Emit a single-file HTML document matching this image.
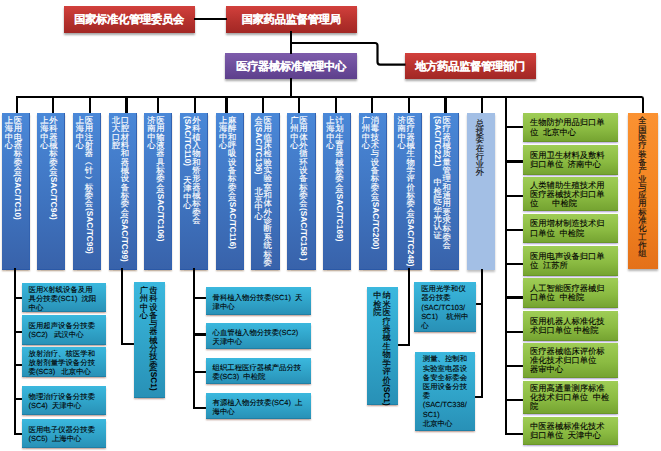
<!DOCTYPE html><html><head><meta charset="utf-8"><style>
*{margin:0;padding:0;box-sizing:border-box}
html,body{width:661px;height:451px;overflow:hidden;background:#fff}
body{position:relative;font-family:"Liberation Sans",sans-serif;text-rendering:geometricPrecision}
.ln{position:absolute;background:#000}
.bx{position:absolute}
.tb{color:#fff;font-weight:bold;font-size:11.2px;letter-spacing:-0.2px;text-indent:-0.2px;display:flex;align-items:center;justify-content:center;white-space:nowrap;padding-top:3.5px;-webkit-text-stroke:0.12px #fff}
.red{background:linear-gradient(#d2403c,#b3302c 60%,#a22724);box-shadow:0 2px 2px rgba(0,0,0,.35)}
.purple{background:linear-gradient(#7d5cab,#6a4b99 60%,#5d3f8c);box-shadow:0 2px 2px rgba(0,0,0,.35)}
.blue{background:linear-gradient(#4a88d8,#3f74c0 55%,#3862aa);box-shadow:inset 0 -1px 0 #2a58a6,inset -1px 0 0 #3262b0,0 1.5px 1.5px rgba(130,95,60,.45);color:#fff}
.lblue{background:#a3bfe5;box-shadow:0 2px 2px rgba(0,0,0,.25);color:#111}
.orange{background:linear-gradient(#fb9232,#f3831f 60%,#e4711a);box-shadow:0 2px 2px rgba(0,0,0,.3);color:#111}
.teal{background:linear-gradient(#3bb8de,#30a3c8 55%,#2890b6);box-shadow:inset 0 -1px 0 #207fa5,0 1.5px 1.5px rgba(140,80,60,.45);color:#000}
.green{background:linear-gradient(#9fcd56,#8bbb42 55%,#74a230);box-shadow:inset 0 -1px 0 #6a9628,0 1.5px 1.5px rgba(120,100,180,.45);color:#000}
.vc{position:absolute;width:12px;display:flex;flex-direction:column;align-items:center;white-space:nowrap}
.vc i{font-style:normal;display:block}
.vc .c{width:12px;text-align:center;-webkit-text-stroke:0.15px currentColor}
.vc .l{writing-mode:vertical-rl;line-height:12px;font-weight:bold;position:relative;left:0.6px}
.ht{-webkit-text-stroke:0.1px #000;font-size:7.4px;line-height:9.1px;white-space:nowrap;display:flex;align-items:center;padding-left:6.5px;padding-top:1.5px;font-weight:500}
.ht2{-webkit-text-stroke:0.1px #000;font-size:7.4px;line-height:9.2px;white-space:nowrap;display:flex;align-items:center;padding-left:7.5px;font-weight:500}
.green.ht{font-size:8.3px;padding-left:7.2px;line-height:9.2px;padding-top:0.3px}
</style></head><body>
<div class="bx red tb" style="left:63.60px;top:5.70px;width:131.20px;height:27.00px;">国家标准化管理委员会</div>
<div class="bx red tb" style="left:225.80px;top:5.80px;width:131.20px;height:26.90px;">国家药品监督管理局</div>
<div class="bx purple tb" style="left:225.40px;top:52.70px;width:131.60px;height:26.40px;">医疗器械标准管理中心</div>
<div class="bx red tb" style="left:405.00px;top:52.80px;width:130.50px;height:25.80px;">地方药品监督管理部门</div>
<div class="ln" style="left:193.70px;top:17.70px;width:33.20px;height:2.20px"></div>
<div class="ln" style="left:290.30px;top:30.90px;width:2.20px;height:23.20px"></div>
<svg style="position:absolute;left:0;top:0" width="661" height="451"><path d="M290.3,43 H375 Q377.5,43 377.5,45.5 V62.1 Q377.5,64.6 380,64.6 H405.5" fill="none" stroke="#000" stroke-width="2.2"/></svg>
<div class="ln" style="left:290.30px;top:77.90px;width:2.20px;height:20.50px"></div>
<div class="ln" style="left:15.90px;top:96.20px;width:625.70px;height:2.20px"></div>
<div style="position:absolute;left:638.2px;top:96.2px;width:6.2px;height:17px;border-top:2.2px solid #000;border-right:2.2px solid #000;border-top-right-radius:3px"></div>
<div class="ln" style="left:15.90px;top:96.20px;width:2.20px;height:18.40px"></div>
<div class="bx blue" style="left:1.50px;top:113.00px;width:28.30px;height:156.60px;"><div class="vc" style="left:10.30px;top:3.00px;font-size:8.35px"><i class="c" style="height:8.35px;line-height:8.35px">医</i><i class="c" style="height:8.35px;line-height:8.35px">用</i><i class="c" style="height:8.35px;line-height:8.35px">电</i><i class="c" style="height:8.35px;line-height:8.35px">器</i><i class="c" style="height:8.35px;line-height:8.35px">标</i><i class="c" style="height:8.35px;line-height:8.35px">委</i><i class="c" style="height:8.35px;line-height:8.35px">会</i><i class="l">(SAC/TC10)</i></div><div class="vc" style="left:1.30px;top:3.00px;font-size:8.35px"><i class="c" style="height:8.35px;line-height:8.35px">上</i><i class="c" style="height:8.35px;line-height:8.35px">海</i><i class="c" style="height:8.35px;line-height:8.35px">中</i><i class="c" style="height:8.35px;line-height:8.35px">心</i></div></div>
<div class="ln" style="left:52.10px;top:96.20px;width:2.20px;height:18.40px"></div>
<div class="bx blue" style="left:37.00px;top:113.00px;width:28.30px;height:156.60px;"><div class="vc" style="left:10.30px;top:3.00px;font-size:8.35px"><i class="c" style="height:8.35px;line-height:8.35px">外</i><i class="c" style="height:8.35px;line-height:8.35px">科</i><i class="c" style="height:8.35px;line-height:8.35px">器</i><i class="c" style="height:8.35px;line-height:8.35px">械</i><i class="c" style="height:8.35px;line-height:8.35px">标</i><i class="c" style="height:8.35px;line-height:8.35px">委</i><i class="c" style="height:8.35px;line-height:8.35px">会</i><i class="l">(SAC/TC94)</i></div><div class="vc" style="left:1.30px;top:3.00px;font-size:8.35px"><i class="c" style="height:8.35px;line-height:8.35px">上</i><i class="c" style="height:8.35px;line-height:8.35px">海</i><i class="c" style="height:8.35px;line-height:8.35px">中</i><i class="c" style="height:8.35px;line-height:8.35px">心</i></div></div>
<div class="ln" style="left:89.10px;top:96.20px;width:2.20px;height:18.40px"></div>
<div class="bx blue" style="left:72.70px;top:113.00px;width:28.10px;height:156.60px;"><div class="vc" style="left:10.30px;top:3.00px;font-size:8.35px"><i class="c" style="height:8.35px;line-height:8.35px">医</i><i class="c" style="height:8.35px;line-height:8.35px">用</i><i class="c" style="height:8.35px;line-height:8.35px">注</i><i class="c" style="height:8.35px;line-height:8.35px">射</i><i class="c" style="height:8.35px;line-height:8.35px">器</i><i class="c" style="height:8.35px;line-height:8.35px">︵</i><i class="c" style="height:8.35px;line-height:8.35px">针</i><i class="c" style="height:8.35px;line-height:8.35px">︶</i><i class="c" style="height:8.35px;line-height:8.35px">标</i><i class="c" style="height:8.35px;line-height:8.35px">委</i><i class="c" style="height:8.35px;line-height:8.35px">会</i><i class="l">(SAC/TC95)</i></div><div class="vc" style="left:1.30px;top:3.00px;font-size:8.35px"><i class="c" style="height:8.35px;line-height:8.35px">上</i><i class="c" style="height:8.35px;line-height:8.35px">海</i><i class="c" style="height:8.35px;line-height:8.35px">中</i><i class="c" style="height:8.35px;line-height:8.35px">心</i></div></div>
<div class="ln" style="left:125.40px;top:96.20px;width:2.20px;height:18.40px"></div>
<div class="bx blue" style="left:108.60px;top:113.00px;width:28.20px;height:156.60px;"><div class="vc" style="left:10.30px;top:3.00px;font-size:8.35px"><i class="c" style="height:8.35px;line-height:8.35px">口</i><i class="c" style="height:8.35px;line-height:8.35px">腔</i><i class="c" style="height:8.35px;line-height:8.35px">材</i><i class="c" style="height:8.35px;line-height:8.35px">料</i><i class="c" style="height:8.35px;line-height:8.35px">和</i><i class="c" style="height:8.35px;line-height:8.35px">器</i><i class="c" style="height:8.35px;line-height:8.35px">械</i><i class="c" style="height:8.35px;line-height:8.35px">设</i><i class="c" style="height:8.35px;line-height:8.35px">备</i><i class="c" style="height:8.35px;line-height:8.35px">标</i><i class="c" style="height:8.35px;line-height:8.35px">委</i><i class="c" style="height:8.35px;line-height:8.35px">会</i><i class="l">(SAC/TC99)</i></div><div class="vc" style="left:1.30px;top:3.00px;font-size:8.35px"><i class="c" style="height:8.35px;line-height:8.35px">北</i><i class="c" style="height:8.35px;line-height:8.35px">大</i><i class="c" style="height:8.35px;line-height:8.35px">口</i><i class="c" style="height:8.35px;line-height:8.35px">腔</i></div></div>
<div class="ln" style="left:156.90px;top:96.20px;width:2.20px;height:18.40px"></div>
<div class="bx blue" style="left:144.20px;top:113.00px;width:28.10px;height:156.60px;"><div class="vc" style="left:10.30px;top:3.00px;font-size:8.35px"><i class="c" style="height:8.35px;line-height:8.35px">医</i><i class="c" style="height:8.35px;line-height:8.35px">用</i><i class="c" style="height:8.35px;line-height:8.35px">输</i><i class="c" style="height:8.35px;line-height:8.35px">液</i><i class="c" style="height:8.35px;line-height:8.35px">器</i><i class="c" style="height:8.35px;line-height:8.35px">具</i><i class="c" style="height:8.35px;line-height:8.35px">标</i><i class="c" style="height:8.35px;line-height:8.35px">委</i><i class="c" style="height:8.35px;line-height:8.35px">会</i><i class="l">(SAC/TC106)</i></div><div class="vc" style="left:1.30px;top:3.00px;font-size:8.35px"><i class="c" style="height:8.35px;line-height:8.35px">济</i><i class="c" style="height:8.35px;line-height:8.35px">南</i><i class="c" style="height:8.35px;line-height:8.35px">中</i><i class="c" style="height:8.35px;line-height:8.35px">心</i></div></div>
<div class="ln" style="left:193.60px;top:96.20px;width:2.20px;height:18.40px"></div>
<div class="bx blue" style="left:180.10px;top:113.00px;width:27.90px;height:156.60px;"><div class="vc" style="left:10.30px;top:3.00px;font-size:8.35px"><i class="c" style="height:8.35px;line-height:8.35px">外</i><i class="c" style="height:8.35px;line-height:8.35px">科</i><i class="c" style="height:8.35px;line-height:8.35px">植</i><i class="c" style="height:8.35px;line-height:8.35px">入</i><i class="c" style="height:8.35px;line-height:8.35px">物</i><i class="c" style="height:8.35px;line-height:8.35px">和</i><i class="c" style="height:8.35px;line-height:8.35px">矫</i><i class="c" style="height:8.35px;line-height:8.35px">形</i><i class="c" style="height:8.35px;line-height:8.35px">器</i><i class="c" style="height:8.35px;line-height:8.35px">械</i><i class="c" style="height:8.35px;line-height:8.35px">标</i><i class="c" style="height:8.35px;line-height:8.35px">委</i><i class="c" style="height:8.35px;line-height:8.35px">会</i></div><div class="vc" style="left:1.30px;top:3.00px;font-size:8.35px"><i class="l">(SAC/TC110)</i><i class="sp" style="height:4.93px"></i><i class="sp" style="height:4.93px"></i><i class="c" style="height:8.35px;line-height:8.35px">天</i><i class="c" style="height:8.35px;line-height:8.35px">津</i><i class="c" style="height:8.35px;line-height:8.35px">中</i><i class="c" style="height:8.35px;line-height:8.35px">心</i></div></div>
<div class="ln" style="left:225.40px;top:96.20px;width:2.20px;height:18.40px"></div>
<div class="bx blue" style="left:215.80px;top:113.00px;width:28.00px;height:156.60px;"><div class="vc" style="left:10.30px;top:3.00px;font-size:8.35px"><i class="c" style="height:8.35px;line-height:8.35px">麻</i><i class="c" style="height:8.35px;line-height:8.35px">醉</i><i class="c" style="height:8.35px;line-height:8.35px">和</i><i class="c" style="height:8.35px;line-height:8.35px">呼</i><i class="c" style="height:8.35px;line-height:8.35px">吸</i><i class="c" style="height:8.35px;line-height:8.35px">设</i><i class="c" style="height:8.35px;line-height:8.35px">备</i><i class="c" style="height:8.35px;line-height:8.35px">标</i><i class="c" style="height:8.35px;line-height:8.35px">委</i><i class="c" style="height:8.35px;line-height:8.35px">会</i><i class="l">(SAC/TC116)</i></div><div class="vc" style="left:1.30px;top:3.00px;font-size:8.35px"><i class="c" style="height:8.35px;line-height:8.35px">上</i><i class="c" style="height:8.35px;line-height:8.35px">海</i><i class="c" style="height:8.35px;line-height:8.35px">中</i><i class="c" style="height:8.35px;line-height:8.35px">心</i></div></div>
<div class="ln" style="left:261.50px;top:96.20px;width:2.20px;height:18.40px"></div>
<div class="bx blue" style="left:251.30px;top:113.00px;width:28.40px;height:156.60px;"><div class="vc" style="left:10.30px;top:3.00px;font-size:8.35px"><i class="c" style="height:8.35px;line-height:8.35px">医</i><i class="c" style="height:8.35px;line-height:8.35px">用</i><i class="c" style="height:8.35px;line-height:8.35px">临</i><i class="c" style="height:8.35px;line-height:8.35px">床</i><i class="c" style="height:8.35px;line-height:8.35px">检</i><i class="c" style="height:8.35px;line-height:8.35px">验</i><i class="c" style="height:8.35px;line-height:8.35px">实</i><i class="c" style="height:8.35px;line-height:8.35px">验</i><i class="c" style="height:8.35px;line-height:8.35px">室</i><i class="c" style="height:8.35px;line-height:8.35px">和</i><i class="c" style="height:8.35px;line-height:8.35px">体</i><i class="c" style="height:8.35px;line-height:8.35px">外</i><i class="c" style="height:8.35px;line-height:8.35px">诊</i><i class="c" style="height:8.35px;line-height:8.35px">断</i><i class="c" style="height:8.35px;line-height:8.35px">系</i><i class="c" style="height:8.35px;line-height:8.35px">统</i><i class="c" style="height:8.35px;line-height:8.35px">标</i><i class="c" style="height:8.35px;line-height:8.35px">委</i></div><div class="vc" style="left:1.30px;top:3.00px;font-size:8.35px"><i class="c" style="height:8.35px;line-height:8.35px">会</i><i class="l">(SAC/TC136)</i><i class="sp" style="height:4.93px"></i><i class="sp" style="height:4.93px"></i><i class="sp" style="height:2.00px"></i><i class="c" style="height:8.35px;line-height:8.35px">北</i><i class="c" style="height:8.35px;line-height:8.35px">京</i><i class="c" style="height:8.35px;line-height:8.35px">中</i><i class="c" style="height:8.35px;line-height:8.35px">心</i></div></div>
<div class="ln" style="left:297.90px;top:96.20px;width:2.20px;height:18.40px"></div>
<div class="bx blue" style="left:287.00px;top:113.00px;width:28.60px;height:156.60px;"><div class="vc" style="left:10.30px;top:3.00px;font-size:8.35px"><i class="c" style="height:8.35px;line-height:8.35px">医</i><i class="c" style="height:8.35px;line-height:8.35px">用</i><i class="c" style="height:8.35px;line-height:8.35px">体</i><i class="c" style="height:8.35px;line-height:8.35px">外</i><i class="c" style="height:8.35px;line-height:8.35px">循</i><i class="c" style="height:8.35px;line-height:8.35px">环</i><i class="c" style="height:8.35px;line-height:8.35px">设</i><i class="c" style="height:8.35px;line-height:8.35px">备</i><i class="c" style="height:8.35px;line-height:8.35px">标</i><i class="c" style="height:8.35px;line-height:8.35px">委</i><i class="c" style="height:8.35px;line-height:8.35px">会</i><i class="l">(SAC/TC158 )</i></div><div class="vc" style="left:1.30px;top:3.00px;font-size:8.35px"><i class="c" style="height:8.35px;line-height:8.35px">广</i><i class="c" style="height:8.35px;line-height:8.35px">州</i><i class="c" style="height:8.35px;line-height:8.35px">中</i><i class="c" style="height:8.35px;line-height:8.35px">心</i></div></div>
<div class="ln" style="left:334.90px;top:96.20px;width:2.20px;height:18.40px"></div>
<div class="bx blue" style="left:323.00px;top:113.00px;width:28.00px;height:156.60px;"><div class="vc" style="left:10.30px;top:3.00px;font-size:8.35px"><i class="c" style="height:8.35px;line-height:8.35px">计</i><i class="c" style="height:8.35px;line-height:8.35px">划</i><i class="c" style="height:8.35px;line-height:8.35px">生</i><i class="c" style="height:8.35px;line-height:8.35px">育</i><i class="c" style="height:8.35px;line-height:8.35px">器</i><i class="c" style="height:8.35px;line-height:8.35px">械</i><i class="c" style="height:8.35px;line-height:8.35px">标</i><i class="c" style="height:8.35px;line-height:8.35px">委</i><i class="c" style="height:8.35px;line-height:8.35px">会</i><i class="l">(SAC/TC169)</i></div><div class="vc" style="left:1.30px;top:3.00px;font-size:8.35px"><i class="c" style="height:8.35px;line-height:8.35px">上</i><i class="c" style="height:8.35px;line-height:8.35px">海</i><i class="c" style="height:8.35px;line-height:8.35px">中</i><i class="c" style="height:8.35px;line-height:8.35px">心</i></div></div>
<div class="ln" style="left:371.30px;top:96.20px;width:2.20px;height:18.40px"></div>
<div class="bx blue" style="left:358.70px;top:113.00px;width:27.90px;height:156.60px;"><div class="vc" style="left:10.30px;top:3.00px;font-size:8.35px"><i class="c" style="height:8.35px;line-height:8.35px">消</i><i class="c" style="height:8.35px;line-height:8.35px">毒</i><i class="c" style="height:8.35px;line-height:8.35px">技</i><i class="c" style="height:8.35px;line-height:8.35px">术</i><i class="c" style="height:8.35px;line-height:8.35px">与</i><i class="c" style="height:8.35px;line-height:8.35px">设</i><i class="c" style="height:8.35px;line-height:8.35px">备</i><i class="c" style="height:8.35px;line-height:8.35px">标</i><i class="c" style="height:8.35px;line-height:8.35px">委</i><i class="c" style="height:8.35px;line-height:8.35px">会</i><i class="l">(SAC/TC200)</i></div><div class="vc" style="left:1.30px;top:3.00px;font-size:8.35px"><i class="c" style="height:8.35px;line-height:8.35px">广</i><i class="c" style="height:8.35px;line-height:8.35px">州</i><i class="c" style="height:8.35px;line-height:8.35px">中</i><i class="c" style="height:8.35px;line-height:8.35px">心</i></div></div>
<div class="ln" style="left:407.90px;top:96.20px;width:2.20px;height:18.40px"></div>
<div class="bx blue" style="left:394.30px;top:113.00px;width:28.00px;height:156.60px;"><div class="vc" style="left:10.30px;top:3.00px;font-size:8.35px"><i class="c" style="height:8.35px;line-height:8.35px">医</i><i class="c" style="height:8.35px;line-height:8.35px">疗</i><i class="c" style="height:8.35px;line-height:8.35px">器</i><i class="c" style="height:8.35px;line-height:8.35px">械</i><i class="c" style="height:8.35px;line-height:8.35px">生</i><i class="c" style="height:8.35px;line-height:8.35px">物</i><i class="c" style="height:8.35px;line-height:8.35px">学</i><i class="c" style="height:8.35px;line-height:8.35px">评</i><i class="c" style="height:8.35px;line-height:8.35px">价</i><i class="c" style="height:8.35px;line-height:8.35px">标</i><i class="c" style="height:8.35px;line-height:8.35px">委</i><i class="c" style="height:8.35px;line-height:8.35px">会</i><i class="l">(SAC/TC248)</i></div><div class="vc" style="left:1.30px;top:3.00px;font-size:8.35px"><i class="c" style="height:8.35px;line-height:8.35px">济</i><i class="c" style="height:8.35px;line-height:8.35px">南</i><i class="c" style="height:8.35px;line-height:8.35px">中</i><i class="c" style="height:8.35px;line-height:8.35px">心</i></div></div>
<div class="ln" style="left:444.40px;top:96.20px;width:2.20px;height:18.40px"></div>
<div class="bx blue" style="left:430.30px;top:113.00px;width:28.40px;height:156.60px;"><div class="vc" style="left:10.30px;top:3.00px;font-size:8.35px"><i class="c" style="height:8.35px;line-height:8.35px">医</i><i class="c" style="height:8.35px;line-height:8.35px">疗</i><i class="c" style="height:8.35px;line-height:8.35px">器</i><i class="c" style="height:8.35px;line-height:8.35px">械</i><i class="c" style="height:8.35px;line-height:8.35px">质</i><i class="c" style="height:8.35px;line-height:8.35px">量</i><i class="c" style="height:8.35px;line-height:8.35px">管</i><i class="c" style="height:8.35px;line-height:8.35px">理</i><i class="c" style="height:8.35px;line-height:8.35px">和</i><i class="c" style="height:8.35px;line-height:8.35px">通</i><i class="c" style="height:8.35px;line-height:8.35px">用</i><i class="c" style="height:8.35px;line-height:8.35px">要</i><i class="c" style="height:8.35px;line-height:8.35px">求</i><i class="c" style="height:8.35px;line-height:8.35px">标</i><i class="c" style="height:8.35px;line-height:8.35px">委</i><i class="c" style="height:8.35px;line-height:8.35px">会</i></div><div class="vc" style="left:1.30px;top:3.00px;font-size:8.35px"><i class="l">(SAC/TC221)</i><i class="sp" style="height:4.93px"></i><i class="sp" style="height:4.93px"></i><i class="sp" style="height:2.00px"></i><i class="c" style="height:8.35px;line-height:8.35px">中</i><i class="c" style="height:8.35px;line-height:8.35px">检</i><i class="c" style="height:8.35px;line-height:8.35px">院</i><i class="l">/</i><i class="c" style="height:8.35px;line-height:8.35px">华</i><i class="c" style="height:8.35px;line-height:8.35px">光</i><i class="c" style="height:8.35px;line-height:8.35px">认</i><i class="c" style="height:8.35px;line-height:8.35px">证</i></div></div>
<div class="ln" style="left:480.90px;top:96.20px;width:2.20px;height:18.40px"></div>
<div class="bx lblue" style="left:466.70px;top:113.00px;width:28.60px;height:157.00px;"><div class="vc" style="left:7.10px;top:7.00px;font-size:8.2px"><i class="c" style="height:8.2px;line-height:8.2px">总</i><i class="c" style="height:8.2px;line-height:8.2px">技</i><i class="c" style="height:8.2px;line-height:8.2px">委</i><i class="c" style="height:8.2px;line-height:8.2px">在</i><i class="c" style="height:8.2px;line-height:8.2px">行</i><i class="c" style="height:8.2px;line-height:8.2px">业</i><i class="c" style="height:8.2px;line-height:8.2px">外</i></div></div>
<div class="bx orange" style="left:627.80px;top:112.60px;width:30.00px;height:156.90px;"><div class="vc" style="left:8.60px;top:3.90px;font-size:8.3px"><i class="c" style="height:8.3px;line-height:8.3px">全</i><i class="c" style="height:8.3px;line-height:8.3px">国</i><i class="c" style="height:8.3px;line-height:8.3px">医</i><i class="c" style="height:8.3px;line-height:8.3px">疗</i><i class="c" style="height:8.3px;line-height:8.3px">装</i><i class="c" style="height:8.3px;line-height:8.3px">备</i><i class="c" style="height:8.3px;line-height:8.3px">产</i><i class="c" style="height:8.3px;line-height:8.3px">业</i><i class="c" style="height:8.3px;line-height:8.3px">与</i><i class="c" style="height:8.3px;line-height:8.3px">应</i><i class="c" style="height:8.3px;line-height:8.3px">用</i><i class="c" style="height:8.3px;line-height:8.3px">标</i><i class="c" style="height:8.3px;line-height:8.3px">准</i><i class="c" style="height:8.3px;line-height:8.3px">化</i><i class="c" style="height:8.3px;line-height:8.3px">工</i><i class="c" style="height:8.3px;line-height:8.3px">作</i><i class="c" style="height:8.3px;line-height:8.3px">组</i></div></div>
<div class="ln" style="left:14.00px;top:267.90px;width:2.20px;height:167.20px"></div>
<div class="ln" style="left:14.00px;top:296.60px;width:9.60px;height:2.20px"></div>
<div class="bx teal ht" style="left:22.00px;top:282.90px;width:84.00px;height:29.40px;"><div>医用X射线设备及用<br>具分技委(SC1)&nbsp; 沈阳<br>中心</div></div>
<div class="ln" style="left:14.00px;top:330.60px;width:9.60px;height:2.20px"></div>
<div class="bx teal ht" style="left:22.00px;top:314.80px;width:84.00px;height:29.80px;"><div>医用超声设备分技委<br>(SC2)&nbsp;&nbsp; 武汉中心</div></div>
<div class="ln" style="left:14.00px;top:363.50px;width:9.60px;height:2.20px"></div>
<div class="bx teal ht" style="left:22.00px;top:347.40px;width:84.00px;height:29.60px;"><div>放射治疗、核医学和<br>放射剂量学设备分技<br>委(SC3)&nbsp;&nbsp; 北京中心</div></div>
<div class="ln" style="left:14.00px;top:397.90px;width:9.60px;height:2.20px"></div>
<div class="bx teal ht" style="left:22.00px;top:386.00px;width:84.00px;height:29.10px;"><div>物理治疗设备分技委<br>(SC4)&nbsp; 天津中心</div></div>
<div class="ln" style="left:14.00px;top:432.90px;width:9.60px;height:2.20px"></div>
<div class="bx teal ht" style="left:22.00px;top:418.70px;width:84.00px;height:28.90px;"><div>医用电子仪器分技委<br>(SC5)&nbsp; 上海中心</div></div>
<div class="ln" style="left:120.60px;top:267.90px;width:2.20px;height:76.90px"></div>
<div class="ln" style="left:120.60px;top:342.60px;width:14.90px;height:2.20px"></div>
<div class="bx teal" style="left:134.40px;top:282.00px;width:30.60px;height:115.50px;"><div class="vc" style="left:12.90px;top:4.00px;font-size:8.3px"><i class="c" style="height:8.3px;line-height:8.3px">齿</i><i class="c" style="height:8.3px;line-height:8.3px">科</i><i class="c" style="height:8.3px;line-height:8.3px">设</i><i class="c" style="height:8.3px;line-height:8.3px">备</i><i class="c" style="height:8.3px;line-height:8.3px">与</i><i class="c" style="height:8.3px;line-height:8.3px">器</i><i class="c" style="height:8.3px;line-height:8.3px">械</i><i class="c" style="height:8.3px;line-height:8.3px">分</i><i class="c" style="height:8.3px;line-height:8.3px">技</i><i class="c" style="height:8.3px;line-height:8.3px">委</i><i class="l">(SC1)</i></div><div class="vc" style="left:3.60px;top:4.00px;font-size:8.3px"><i class="c" style="height:8.3px;line-height:8.3px">广</i><i class="c" style="height:8.3px;line-height:8.3px">州</i><i class="c" style="height:8.3px;line-height:8.3px">中</i><i class="c" style="height:8.3px;line-height:8.3px">心</i></div></div>
<div class="ln" style="left:192.70px;top:267.90px;width:2.20px;height:140.90px"></div>
<div class="ln" style="left:192.70px;top:296.50px;width:14.90px;height:2.20px"></div>
<div class="bx teal ht" style="left:206.00px;top:287.20px;width:105.30px;height:27.50px;"><div>骨科植入物分技委(SC1)&nbsp; 天<br>津中心</div></div>
<div class="ln" style="left:192.70px;top:333.40px;width:14.90px;height:2.20px"></div>
<div class="bx teal ht" style="left:206.00px;top:322.80px;width:105.30px;height:26.50px;"><div>心血管植入物分技委(SC2)<br>天津中心</div></div>
<div class="ln" style="left:192.70px;top:370.50px;width:14.90px;height:2.20px"></div>
<div class="bx teal ht" style="left:206.00px;top:357.70px;width:105.30px;height:26.70px;"><div>组织工程医疗器械产品分技<br>委(SC3)&nbsp; 中检院</div></div>
<div class="ln" style="left:192.70px;top:406.60px;width:14.90px;height:2.20px"></div>
<div class="bx teal ht" style="left:206.00px;top:392.60px;width:105.30px;height:26.70px;"><div>有源植入物分技委(SC4)&nbsp; 上<br>海中心</div></div>
<div class="ln" style="left:407.50px;top:267.90px;width:2.20px;height:77.80px"></div>
<div class="ln" style="left:395.70px;top:343.50px;width:14.00px;height:2.20px"></div>
<div class="bx teal" style="left:366.80px;top:287.30px;width:31.20px;height:118.00px;"><div class="vc" style="left:13.90px;top:4.00px;font-size:8.3px"><i class="c" style="height:8.45px;line-height:8.45px">纳</i><i class="c" style="height:8.45px;line-height:8.45px">米</i><i class="c" style="height:8.45px;line-height:8.45px">医</i><i class="c" style="height:8.45px;line-height:8.45px">疗</i><i class="c" style="height:8.45px;line-height:8.45px">器</i><i class="c" style="height:8.45px;line-height:8.45px">械</i><i class="c" style="height:8.45px;line-height:8.45px">生</i><i class="c" style="height:8.45px;line-height:8.45px">物</i><i class="c" style="height:8.45px;line-height:8.45px">学</i><i class="c" style="height:8.45px;line-height:8.45px">评</i><i class="c" style="height:8.45px;line-height:8.45px">价</i><i class="l">(SC1)</i></div><div class="vc" style="left:4.50px;top:4.00px;font-size:8.3px"><i class="c" style="height:8.45px;line-height:8.45px">中</i><i class="c" style="height:8.45px;line-height:8.45px">检</i><i class="c" style="height:8.45px;line-height:8.45px">院</i></div></div>
<div class="ln" style="left:480.90px;top:268.90px;width:2.20px;height:129.20px"></div>
<div class="ln" style="left:474.40px;top:302.90px;width:8.70px;height:2.20px"></div>
<div class="ln" style="left:473.90px;top:395.90px;width:9.20px;height:2.20px"></div>
<div class="bx teal ht2" style="left:413.70px;top:282.00px;width:62.00px;height:50.40px;"><div>医用光学和仪<br>器分技委<br>(SAC/TC103/<br>SC1)&nbsp;&nbsp;&nbsp; 杭州中<br>心</div></div>
<div class="bx teal ht2" style="left:415.30px;top:351.70px;width:59.70px;height:79.10px;"><div>测量、控制和<br>实验室电器设<br>备安全标委会<br>医用设备分技<br>委<br>(SAC/TC338/<br>SC1)<br>北京中心</div></div>
<div class="ln" style="left:504.90px;top:96.20px;width:2.20px;height:338.60px"></div>
<div class="ln" style="left:504.90px;top:126.10px;width:19.20px;height:2.20px"></div>
<div class="bx green ht" style="left:522.80px;top:112.80px;width:94.80px;height:29.30px;"><div>生物防护用品归口单<br>位&nbsp; 北京中心</div></div>
<div class="ln" style="left:504.90px;top:160.40px;width:19.20px;height:2.20px"></div>
<div class="bx green ht" style="left:522.80px;top:145.00px;width:94.80px;height:30.00px;"><div>医用卫生材料及敷料<br>归口单位&nbsp; 济南中心</div></div>
<div class="ln" style="left:504.90px;top:194.60px;width:19.20px;height:2.20px"></div>
<div class="bx green ht" style="left:522.80px;top:177.40px;width:94.80px;height:33.80px;"><div>人类辅助生殖技术用<br>医疗器械技术归口单<br>位&nbsp;&nbsp;&nbsp;&nbsp;&nbsp; 中检院</div></div>
<div class="ln" style="left:504.90px;top:228.70px;width:19.20px;height:2.20px"></div>
<div class="bx green ht" style="left:522.80px;top:213.90px;width:94.80px;height:29.20px;"><div>医用增材制造技术归<br>口单位&nbsp; 中检院</div></div>
<div class="ln" style="left:504.90px;top:262.50px;width:19.20px;height:2.20px"></div>
<div class="bx green ht" style="left:522.80px;top:245.80px;width:94.80px;height:30.00px;"><div>医用电声设备归口单<br>位&nbsp; 江苏所</div></div>
<div class="ln" style="left:504.90px;top:296.40px;width:19.20px;height:2.20px"></div>
<div class="bx green ht" style="left:522.80px;top:278.30px;width:94.80px;height:30.10px;"><div>人工智能医疗器械归<br>口单位&nbsp; 中检院</div></div>
<div class="ln" style="left:504.90px;top:330.60px;width:19.20px;height:2.20px"></div>
<div class="bx green ht" style="left:522.80px;top:310.50px;width:94.80px;height:30.40px;"><div>医用机器人标准化技<br>术归口单位 中检院</div></div>
<div class="ln" style="left:504.90px;top:365.20px;width:19.20px;height:2.20px"></div>
<div class="bx green ht" style="left:522.80px;top:343.00px;width:94.80px;height:35.30px;"><div>医疗器械临床评价标<br>准化技术归口单位<br>器审中心</div></div>
<div class="ln" style="left:504.90px;top:399.30px;width:19.20px;height:2.20px"></div>
<div class="bx green ht" style="left:522.80px;top:381.00px;width:94.80px;height:32.80px;"><div>医用高通量测序标准<br>化技术归口单位&nbsp; 中检<br>院</div></div>
<div class="ln" style="left:504.90px;top:432.60px;width:19.20px;height:2.20px"></div>
<div class="bx green ht" style="left:522.80px;top:416.50px;width:94.80px;height:28.80px;"><div>中医器械标准化技术<br>归口单位&nbsp; 天津中心</div></div>
</body></html>
